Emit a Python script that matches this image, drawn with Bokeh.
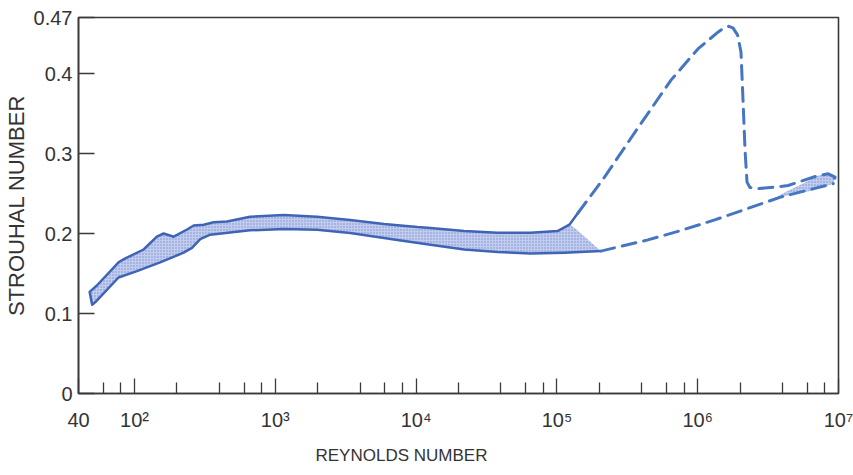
from bokeh.plotting import figure
from bokeh.models import Range1d, FixedTicker, Title
from bokeh.embed import file_html
from bokeh.resources import INLINE

# ---------------- data ----------------
# shaded band, upper edge (Reynolds number, Strouhal number)
band_upper_re = [48, 54, 77, 84, 116, 144, 161, 190, 236, 263, 310, 365, 454, 662,
                 1150, 1980, 3400, 5910, 10200, 12650, 21960, 37900, 65000, 101000, 122700]
band_upper_s = [0.127, 0.135, 0.164, 0.168, 0.180, 0.196, 0.200, 0.196, 0.205, 0.210, 0.211,
                0.214, 0.215, 0.221, 0.223, 0.221, 0.217, 0.212, 0.208, 0.207, 0.203, 0.201,
                0.201, 0.203, 0.211]
# shaded band, lower edge
band_lower_re = [50, 52.5, 77, 104, 152, 223, 256, 293, 345, 662, 1150, 1980, 3400, 5910,
                 7360, 12650, 21960, 37900, 65000, 113000, 205000]
band_lower_s = [0.111, 0.114, 0.145, 0.153, 0.164, 0.176, 0.182, 0.193, 0.1985, 0.204, 0.2055,
                0.2047, 0.2006, 0.1945, 0.192, 0.186, 0.180, 0.177, 0.175, 0.176, 0.178]
# tail of the shaded band
tail_re = [134000]
tail_s = [0.207]
# solid upper edge turning upwards
turn_re = [140700]
turn_s = [0.2253]

# dashed upper branch
upper_dash_re = [140700, 217800, 376000, 646000, 1004000, 1400000, 1556000, 1660000, 1780000,
                 1920000, 2030000, 2100000, 2170000, 2240000, 2350000, 2690000, 3430000,
                 4390000, 7200000, 8460000, 9450000, 9190000]
upper_dash_s = [0.2253, 0.2704, 0.332, 0.3917, 0.4307, 0.452, 0.4575, 0.4590, 0.4570,
                0.4480, 0.4266, 0.365, 0.3033, 0.2642, 0.2575, 0.2561, 0.2577, 0.260,
                0.2725, 0.2746, 0.2704, 0.2623]
# dashed lower branch
lower_dash_re = [205000, 443000, 723000, 1320000, 3920000, 9190000]
lower_dash_s = [0.178, 0.192, 0.2026, 0.217, 0.2457, 0.2623]
# small shaded band at the right
right_band_re = [3200000, 4200000, 5500000, 7200000, 8460000, 9450000, 9190000, 6400000, 3900000]
right_band_s = [0.240, 0.252, 0.262, 0.2725, 0.2746, 0.2704, 0.2623, 0.2535, 0.2455]

# axes
x_major = [40, 100, 1000, 10000, 100000, 1000000, 10000000]
x_labels = ["40", "10²", "10³", "10⁴", "10⁵", "10⁶", "10⁷"]
x_minor = [60, 80, 200, 400, 600, 800, 2000, 4000, 6000, 8000, 20000, 40000, 60000, 80000,
           200000, 400000, 600000, 800000, 2000000, 4000000, 6000000, 8000000]
y_major = [0, 0.1, 0.2, 0.3, 0.4, 0.47]
y_labels = ["0", "0.1", "0.2", "0.3", "0.4", "0.47"]

# ---------------- figure ----------------
FONT = "Liberation Sans"
AX = "#3a3a3a"
BAND_FILL = "#c2cdee"
BAND_HATCH = "#6680cc"
EDGE = "#3f64b6"
DASH = "#4676c2"

p = figure(width=853, height=475, x_axis_type="log",
           x_range=Range1d(40, 1e7), y_range=Range1d(0, 0.47),
           output_backend="svg", toolbar_location=None,
           min_border_left=78, min_border_right=15, min_border_top=17, min_border_bottom=79)
p.grid.visible = False
p.outline_line_color = AX
p.outline_line_width = 1.6
p.background_fill_color = "white"
p.border_fill_color = "white"

# shaded main band
fill_re = band_upper_re + tail_re + list(reversed(band_lower_re))
fill_s = band_upper_s + tail_s + list(reversed(band_lower_s))
p.patch(fill_re, fill_s, fill_color=BAND_FILL, line_color=None,
        hatch_pattern="dot", hatch_color=BAND_HATCH, hatch_scale=3, hatch_weight=1,
        hatch_alpha=0.8)
p.patch(right_band_re, right_band_s, fill_color=BAND_FILL, line_color=None,
        hatch_pattern="dot", hatch_color=BAND_HATCH, hatch_scale=3, hatch_weight=1,
        hatch_alpha=0.8)

# solid outline of the band
solid_re = list(reversed(band_lower_re)) + band_upper_re + turn_re
solid_s = list(reversed(band_lower_s)) + band_upper_s + turn_s
p.line(solid_re, solid_s, line_color=EDGE, line_width=2.5, line_join="round")

# dashed branches
p.line(upper_dash_re, upper_dash_s, line_color=DASH, line_width=3, line_dash="14 8",
       line_join="round", line_cap="round")
p.line(lower_dash_re, lower_dash_s, line_color=DASH, line_width=3, line_dash="14 8",
       line_cap="round")

# x axis
xa = p.xaxis[0]
xa.ticker = FixedTicker(ticks=x_major, minor_ticks=x_minor)
xa.major_label_overrides = {float(v): t for v, t in zip(x_major, x_labels)}
xa.major_tick_in = 15
xa.major_tick_out = 0
xa.minor_tick_in = 11
xa.minor_tick_out = 0
xa.axis_line_color = AX
xa.axis_line_width = 1.6
xa.major_tick_line_color = AX
xa.major_tick_line_width = 1.3
xa.minor_tick_line_color = AX
xa.minor_tick_line_width = 1.3
xa.major_label_text_font = FONT
xa.major_label_text_font_size = "20px"
xa.major_label_text_color = "#333333"
xa.major_label_standoff = 15

# y axis
ya = p.yaxis[0]
ya.ticker = FixedTicker(ticks=y_major)
ya.major_label_overrides = {float(v): t for v, t in zip(y_major, y_labels)}
ya.major_tick_in = 16
ya.major_tick_out = 0
ya.minor_tick_in = 0
ya.minor_tick_out = 0
ya.axis_line_color = AX
ya.axis_line_width = 1.6
ya.major_tick_line_color = AX
ya.major_tick_line_width = 1.3
ya.major_label_text_font = FONT
ya.major_label_text_font_size = "20px"
ya.major_label_text_color = "#333333"
ya.major_label_standoff = 6
ya.axis_label = "STROUHAL NUMBER"
ya.axis_label_text_font = FONT
ya.axis_label_text_font_size = "22px"
ya.axis_label_text_font_style = "normal"
ya.axis_label_text_color = "#333333"
ya.axis_label_standoff = 2

# x axis title (left of centre, as in the reference)
p.add_layout(Title(text="REYNOLDS NUMBER", align="left", offset=237,
                   text_font=FONT, text_font_size="17px", text_font_style="normal",
                   text_color="#333333", standoff=21), "below")

open("out.html", "w").write(file_html(p, INLINE))
